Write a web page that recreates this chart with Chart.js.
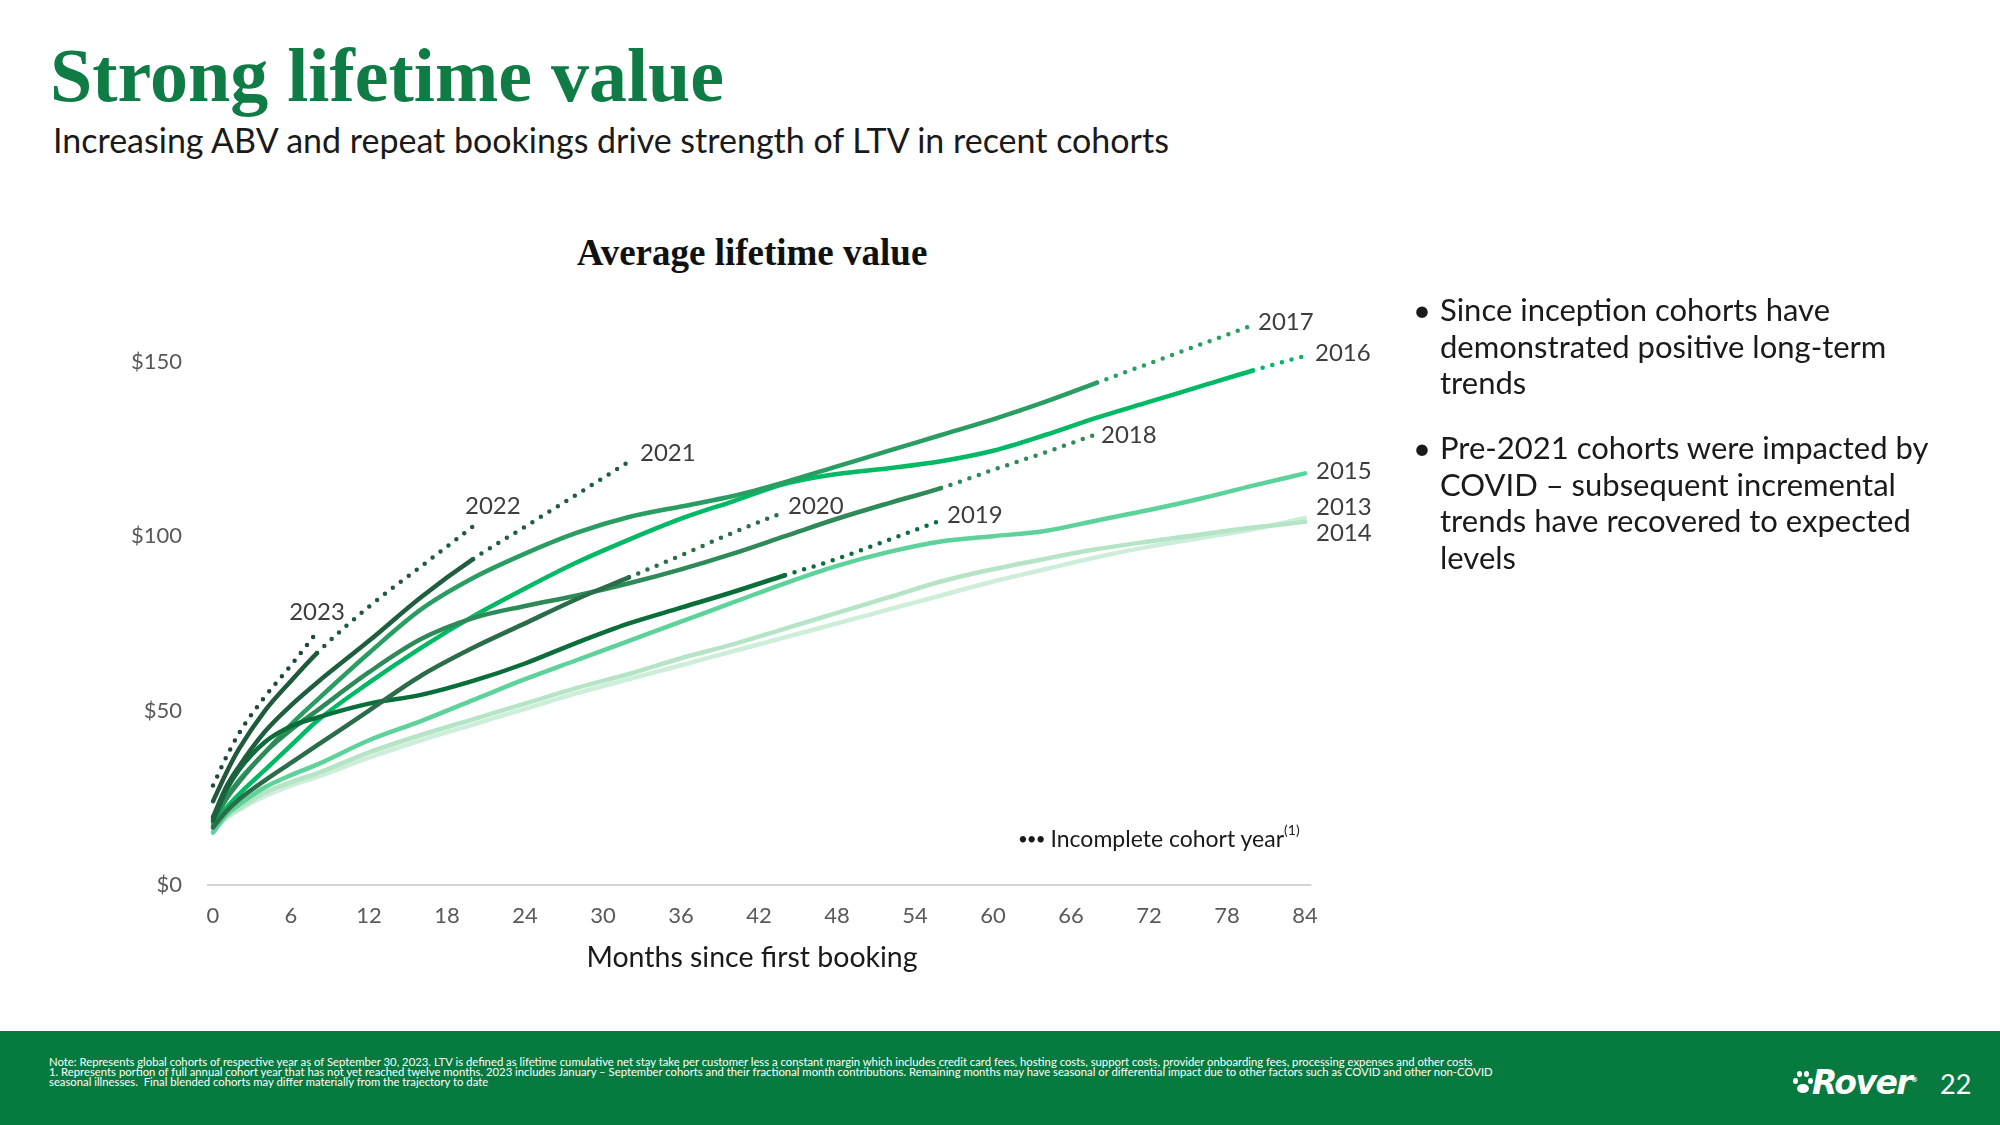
<!DOCTYPE html>
<html><head><meta charset="utf-8">
<script src="https://cdn.jsdelivr.net/npm/chart.js@4.4.1/dist/chart.umd.min.js"></script>
<style>
html,body{margin:0;padding:0;background:#fff;}
body{width:2000px;height:1125px;position:relative;overflow:hidden;font-family:Lato,"Noto Sans",sans-serif;color:#1a1a1a;}
#c{position:absolute;left:0;top:0;}
.abs{position:absolute;white-space:nowrap;}
.title{left:50px;top:37px;font-family:"Liberation Serif",serif;font-weight:700;font-size:76px;line-height:76px;color:#0f7b45;}
.sub{left:53px;top:120px;font-size:34px;line-height:40px;}
.ctitle{left:452px;width:600px;text-align:center;top:234px;font-family:"Liberation Serif",serif;font-weight:700;font-size:37px;line-height:37px;color:#111;}
.xtitle{left:452px;width:600px;text-align:center;top:939px;font-size:28.5px;line-height:34px;color:#1a1a1a;}
.bul{font-size:31px;line-height:36.6px;}
.dot{left:1413px;}
.btxt{left:1440px;}
.legend{left:1018px;top:819px;font-size:23px;line-height:28px;}
.legend sup{font-size:14px;position:relative;top:-3px;}
.footer{left:0;top:1031px;width:2000px;height:94px;background:#077a3f;}
.note{left:49px;top:1057px;font-size:11.3px;line-height:10.2px;color:#fff;white-space:nowrap;}
.rover{left:1812px;top:1062px;font-family:"DejaVu Sans",sans-serif;font-weight:700;font-style:italic;font-size:33px;line-height:36px;color:#fff;letter-spacing:-1.5px;}
.pg{left:1940px;top:1068px;font-size:27px;line-height:32px;color:#fff;}
.paw{position:absolute;background:#fff;border-radius:50%;}
</style></head>
<body>
<div class="abs title">Strong lifetime value</div>
<div class="abs sub">Increasing ABV and repeat bookings drive strength of LTV in recent cohorts</div>
<div class="abs ctitle">Average lifetime value</div>
<canvas id="c" width="2000" height="1125" style="width:2000px;height:1125px"></canvas>
<div class="abs xtitle">Months since first booking</div>
<div class="abs bul dot" style="top:291px">•</div>
<div class="abs bul btxt" style="top:291px">Since inception cohorts have<br>demonstrated positive long-term<br>trends</div>
<div class="abs bul dot" style="top:429px">•</div>
<div class="abs bul btxt" style="top:429px">Pre-2021 cohorts were impacted by<br>COVID – subsequent incremental<br>trends have recovered to expected<br>levels</div>
<div class="abs legend"><span style="font-size:17px;letter-spacing:-1px;position:relative;top:-2px">•••</span> Incomplete cohort year<sup>(1)</sup></div>
<div class="abs footer"></div>
<div class="abs note">Note: Represents global cohorts of respective year as of September 30, 2023. LTV is defined as lifetime cumulative net stay take per customer less a constant margin which includes credit card fees, hosting costs, support costs, provider onboarding fees, processing expenses and other costs<br>1. Represents portion of full annual cohort year that has not yet reached twelve months. 2023 includes January – September cohorts and their fractional month contributions. Remaining months may have seasonal or differential impact due to other factors such as COVID and other non-COVID<br>seasonal illnesses.&nbsp; Final blended cohorts may differ materially from the trajectory to date</div>
<div class="paw" style="left:1793px;top:1078px;width:5px;height:6px"></div>
<div class="paw" style="left:1797px;top:1071px;width:5px;height:6px"></div>
<div class="paw" style="left:1804px;top:1071px;width:5px;height:6px"></div>
<div class="paw" style="left:1808px;top:1078px;width:5px;height:6px"></div>
<div class="paw" style="left:1797px;top:1084px;width:12px;height:9px"></div>
<div class="abs rover">Rover<sup style="font-size:7px;font-style:normal">®</sup></div>
<div class="abs pg">22</div>
<script>
// ---- data ----
const months = [0,1,2,4,6,8,12,16,20,24,28,32,36,40,44,48,52,56,60,64,68,72,76,80,84];
const xTicks = [0,6,12,18,24,30,36,42,48,54,60,66,72,78,84];
const yTicks = [0,50,100,150];
const cohorts = ['2023','2022','2021','2020','2019','2018','2017','2016','2015','2014','2013'];
// month up to which each cohort year is complete (solid); beyond it the line is dotted
const solidUntil = [0,8,20,32,44,56,68,80,84,84,84];
const v2023 = [28.5,36.5,43.5,54,63,72.5];
const v2022 = [24,32,39,50,58.5,66.5,79.8,91.3,102.8];
const v2021 = [19.5,28,34,44,51.5,58,70,82.5,93.4,102.7,112,121.4];
const v2020 = [16.5,21,24.5,30,35,40,50,60,68,75,82,88.2,94.5,101,107];
const v2019 = [18.5,27,33,41,45.5,48,52,54.5,58.5,63.5,69.5,75,79.5,84,88.8,93.5,99,104.5];
const v2018 = [18,24.5,29.5,38,44.5,50,61,70.5,76.5,80,83,86.5,90.5,95,100,105,109.5,113.8,119,124,129.3];
const v2017 = [19,25,30,38,46,53,66.5,79,88,95,101,105.5,108.5,111.5,115.5,120,124.5,129,133.5,138.5,144,149.5,155,160.5];
const v2016 = [17,22,26,33,40,47,58,68,77,85,92.5,99,105,110,115,117.8,119.5,121.5,124.5,129,134,138.5,143,147.5,151.7];
const v2015 = [15,20,23,28,31.5,34.5,41.5,47,53,59,64.5,70,75.5,81,86.5,91.5,95.5,98.5,100,101.5,104.5,107.5,110.8,114.5,118];
const v2014 = [15.5,19.5,22,26.5,29.5,32,38,43,47.5,52,56.5,60.5,65,69,73.5,78,82.5,87,90.5,93.5,96.3,98.5,100.5,102.5,104.1];
const v2013 = [15.5,19,21.5,25.5,28.5,31,36.5,41.5,46,50.5,55,59,63,67,71,75,79,83,87,90.5,94,97,99.5,102,105.2];
const series = [v2023,v2022,v2021,v2020,v2019,v2018,v2017,v2016,v2015,v2014,v2013];

// ---- style ----
const colors = ['#1e4a34','#1f5a3c','#1f5f3f','#2b6c4a','#0a6e3a','#2e8a58','#2a9d62','#00b964','#5dd29a','#b5e4c6','#cdeed9'];
const labelPos = {
  '2023':{align:'center',base:'alphabetic',dx:0,dy:-12},
  '2022':{align:'left',base:'alphabetic',dx:-8,dy:-12},
  '2021':{align:'left',base:'middle',dx:11,dy:-8},
  '2020':{align:'left',base:'middle',dx:3,dy:-5},
  '2019':{align:'left',base:'middle',dx:6,dy:-5},
  '2018':{align:'left',base:'middle',dx:4,dy:1},
  '2017':{align:'left',base:'middle',dx:5,dy:-3},
  '2016':{align:'left',base:'middle',dx:10,dy:-3},
  '2015':{align:'left',base:'middle',dx:11,dy:-2},
  '2014':{align:'left',base:'middle',dx:11,dy:11},
  '2013':{align:'left',base:'middle',dx:11,dy:-11}
};
const endLabels = {
  id:'endLabels',
  afterDatasetsDraw(chart){
    const ctx = chart.ctx;
    ctx.save();
    ctx.font = '24px Lato';
    ctx.fillStyle = '#3d3d3d';
    chart.data.datasets.forEach((ds,i)=>{
      const meta = chart.getDatasetMeta(i);
      let idx = -1;
      for (let k = ds.data.length-1; k >= 0; k--) { if (ds.data[k].y != null) { idx = k; break; } }
      if (idx < 0) return;
      const pt = meta.data[idx];
      const o = labelPos[ds.label];
      ctx.textAlign = o.align; ctx.textBaseline = o.base;
      ctx.fillText(ds.label, pt.x + o.dx, pt.y + o.dy);
    });
    ctx.restore();
  }
};

new Chart(document.getElementById('c'), {
  type:'line',
  data:{
    datasets: cohorts.map((c,i)=>({
      label:c,
      data: months.map((m,k)=>({x:m, y: series[i][k] === undefined ? null : series[i][k]})),
      borderColor: colors[i],
      borderWidth: 4.5,
      pointRadius: 0,
      borderCapStyle:'round',
      borderJoinStyle:'round',
      cubicInterpolationMode:'monotone',
      fill:false,
      spanGaps:false,
      segment:{ borderDash: ctx => months[ctx.p0DataIndex] >= solidUntil[i] ? [0,10] : undefined }
    }))
  },
  options:{
    responsive:false, animation:false, devicePixelRatio:1,
    layout:{padding:{left:126.5, right:688.5, top:292, bottom:150}},
    plugins:{legend:{display:false}, tooltip:{enabled:false}, title:{display:false}},
    scales:{
      x:{
        type:'linear', min:-0.5, max:84.5,
        afterBuildTicks: ax => { ax.ticks = xTicks.map(v=>({value:v})); },
        afterFit: s => { s.height = 90; },
        grid:{display:false, drawTicks:false}, border:{display:false},
        ticks:{padding:18, color:'#595959', font:{family:'Lato', size:22}, autoSkip:false, maxRotation:0},
        title:{display:false}
      },
      y:{
        min:0, max:170,
        afterBuildTicks: ax => { ax.ticks = yTicks.map(v=>({value:v})); },
        afterFit: s => { s.width = 80; },
        grid:{color: c => (c.tick && c.tick.value === 0) ? '#d4d4d4' : 'rgba(0,0,0,0)', lineWidth:2, drawTicks:false},
        border:{display:false},
        ticks:{padding:24.5, color:'#595959', font:{family:'Lato', size:22}, callback: v => '$' + v}
      }
    }
  },
  plugins:[endLabels]
});
</script>
</body></html>
